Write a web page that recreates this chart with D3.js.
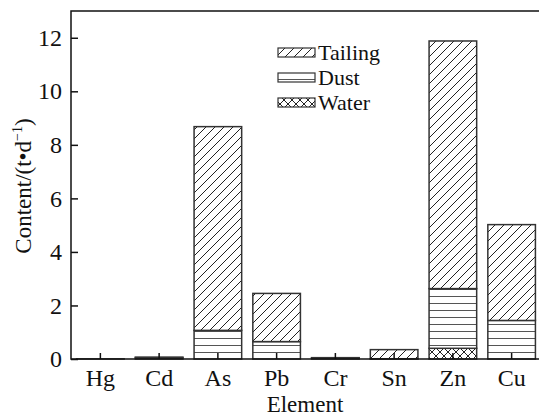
<!DOCTYPE html>
<html><head><meta charset="utf-8">
<script src="https://cdn.jsdelivr.net/npm/d3@7"></script>
<style>body{margin:0;background:#fff}svg{display:block}svg text{font-family:'Liberation Serif','Times New Roman',serif !important;fill:#111}</style>
</head><body><svg id="c" width="539" height="416"></svg>
<script>
const categories = ["Hg","Cd","As","Pb","Cr","Sn","Zn","Cu"];
const water   = [0, 0, 0, 0, 0, 0, 0.40, 0];
const dust    = [0.005, 0.05, 1.07, 0.65, 0.03, 0.01, 2.23, 1.44];
const tailing = [0, 0.02, 7.61, 1.80, 0.02, 0.34, 9.25, 3.58];
const seriesNames = ["Water","Dust","Tailing"];
const legendNames = ["Tailing","Dust","Water"];
const yTicks = [0,2,4,6,8,10,12];

const FONT = "'Liberation Serif', 'Times New Roman', serif";
const svg = d3.select("#c").attr("font-family", FONT);
const m = {l:71, t:11, r:-2, b:57};
const W = 539, H = 416;
const x = d3.scaleBand().domain(categories).range([m.l, W - m.r]).paddingInner(0.19).paddingOuter(0.095);
const y = d3.scaleLinear().domain([0,13]).range([H - m.b, m.t]);

const defs = svg.append("defs");
const pt = defs.append("pattern").attr("id","pTail").attr("patternUnits","userSpaceOnUse").attr("width",9).attr("height",9);
pt.append("rect").attr("width",9).attr("height",9).attr("fill","#fff");
pt.append("path").attr("d","M-1,10 L10,-1 M-1,1 L1,-1 M8,10 L10,8").attr("stroke","#222").attr("stroke-width",1);
const pd = defs.append("pattern").attr("id","pDust").attr("patternUnits","userSpaceOnUse").attr("width",10).attr("height",7).attr("y",H-m.b);
pd.append("rect").attr("width",10).attr("height",7).attr("fill","#fff");
pd.append("path").attr("d","M0,0.5 H10").attr("stroke","#555").attr("stroke-width",1);
const pw = defs.append("pattern").attr("id","pWater").attr("patternUnits","userSpaceOnUse").attr("width",8).attr("height",8);
pw.append("rect").attr("width",8).attr("height",8).attr("fill","#fff");
pw.append("path").attr("d","M0,0 L8,8 M8,0 L0,8").attr("stroke","#222").attr("stroke-width",1);

const fills = {Water:"url(#pWater)", Dust:"url(#pDust)", Tailing:"url(#pTail)"};
const rows = categories.map((c,i)=>({cat:c, Water:water[i], Dust:dust[i], Tailing:tailing[i]}));
const stack = d3.stack().keys(seriesNames)(rows);

stack.forEach(layer=>{
  svg.append("g").selectAll("rect").data(layer).join("rect")
    .attr("x", d=>x(d.data.cat))
    .attr("width", x.bandwidth())
    .attr("y", d=>y(d[1]))
    .attr("height", d=>Math.max(0, y(d[0]) - y(d[1])))
    .attr("fill", fills[layer.key])
    .attr("stroke", d=> (d[1]-d[0])>0 ? "#333" : "none")
    .attr("stroke-width", 1.5);
});

const gy = svg.append("g").attr("transform",`translate(${m.l},0)`)
  .call(d3.axisLeft(y).tickValues(yTicks).tickSize(-7).tickPadding(9).tickFormat(d3.format("d")));
gy.attr("font-family", FONT).attr("font-size", 24);
gy.select(".domain").remove();
gy.selectAll("line").attr("stroke","#111").attr("stroke-width",1.5);
gy.selectAll("text").attr("fill","#111");

const gx = svg.append("g").attr("transform",`translate(0,${H-m.b})`)
  .call(d3.axisBottom(x).tickSize(-6).tickPadding(10));
gx.attr("font-family", FONT).attr("font-size", 24);
gx.select(".domain").remove();
gx.selectAll("line").attr("stroke","#111").attr("stroke-width",1.5);
gx.selectAll("text").attr("fill","#111");

svg.append("path").attr("d",`M${W},${m.t} H${m.l} V${H-m.b} H${W}`).attr("fill","none").attr("stroke","#111").attr("stroke-width",1.5);

svg.append("text").attr("x",305).attr("y",412).attr("text-anchor","middle").attr("font-size",23).text("Element");
const yl = svg.append("text").attr("transform",`translate(31,186) rotate(-90)`).attr("text-anchor","middle").attr("font-size",23);
yl.append("tspan").text("Content/(t•d");
yl.append("tspan").attr("font-size",14).attr("dy",-9).text("−1");
yl.append("tspan").attr("dy",9).text(")");

const lg = svg.append("g");
legendNames.forEach((n,i)=>{
  const cy = 52 + i*25;
  lg.append("rect").attr("x",278).attr("y",cy-4).attr("width",37).attr("height",9).attr("fill",fills[n]).attr("stroke","#333").attr("stroke-width",1.2);
  lg.append("text").attr("x",318).attr("y",cy+8).attr("font-size",22).text(n);
});
</script></body></html>
